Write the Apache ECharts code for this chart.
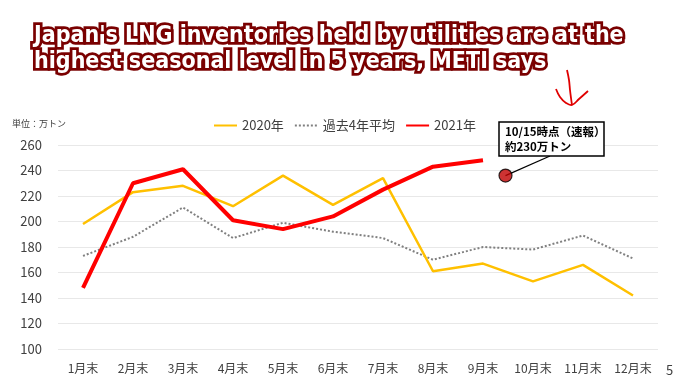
<!DOCTYPE html>
<html><head><meta charset="utf-8">
<script src="https://cdn.jsdelivr.net/npm/echarts@6/dist/echarts.min.js"></script>
<style>html,body{margin:0;padding:0;background:#fff}#c{width:679px;height:382px}</style>
</head><body><div id="c"></div>
<script>
const months = ['1月末','2月末','3月末','4月末','5月末','6月末','7月末','8月末','9月末','10月末','11月末','12月末'];
const y2020 = [198,223,228,212,236,213,234,161,167,153,166,142];
const avg4 = [173,188,211,187,199,192,187,170,180,178,189,171];
const y2021 = [148,230,241,201,194,204,225,243,248];
const flashPoint = [8.45, 236]; // 10/15 preliminary (position between Sep & Oct end)
const yTicks = {min:100, max:260, interval:20};
const titleLines = "Japan's LNG inventories held by utilities are at the\nhighest seasonal level in 5 years, METI says";
const noteLines = "10/15時点（速報）\n約230万トン";

const FONT = '"Noto Sans CJK JP", "Noto Sans", sans-serif';
const chart = echarts.init(document.getElementById('c'), null, {renderer:'canvas'});
const option = {
  animation:false,
  backgroundColor:'#fff',
  title:{
    text: titleLines, left: 29, top: 18,
    textStyle:{fontFamily:'"DejaVu Sans Condensed", "DejaVu Sans"', fontWeight:'bold', fontSize:23, lineHeight:26,
      color:'#fff', textBorderColor:'#7a0000', textBorderWidth:5.5}
  },
  legend:{
    left: 208, top: 114, itemWidth: 23, itemHeight: 10, itemGap: 10,
    itemStyle:{opacity:0},
    textStyle:{fontFamily:FONT, fontSize:13, color:'#404040'},
    data:['2020年','過去4年平均','2021年']
  },
  grid:{left:58, right:21, top:145, bottom:33},
  xAxis:[{
    type:'category', data: months, boundaryGap:true,
    axisLine:{show:false}, axisTick:{show:false},
    axisLabel:{fontFamily:FONT, fontSize:12, color:'#404040', margin:13}
  },{
    type:'value', min:-0.5, max:11.5, show:false
  }],
  yAxis:{
    type:'value', min:yTicks.min, max:yTicks.max, interval:yTicks.interval,
    axisLine:{show:false}, axisTick:{show:false},
    axisLabel:{fontFamily:FONT, fontSize:13, color:'#404040', margin:16},
    splitLine:{lineStyle:{color:'#e8e8e8', width:1}}
  },
  series:[
    {name:'2020年', type:'line', data:y2020, symbol:'none', lineStyle:{color:'#FFC000', width:2.5}, itemStyle:{color:'#FFC000'}, z:2},
    {name:'過去4年平均', type:'line', data:avg4, symbol:'none', lineStyle:{color:'#808080', width:2, type:[2,2]}, itemStyle:{color:'#808080'}, z:1},
    {name:'2021年', type:'line', data:y2021, symbol:'none', lineStyle:{color:'#FF0000', width:4}, itemStyle:{color:'#FF0000'}, z:3},
    {name:'flash', type:'scatter', xAxisIndex:1, data:[flashPoint], symbolSize:13,
      itemStyle:{color:'#C00000', borderColor:'#000', borderWidth:1.2}, z:5}
  ]
};
chart.setOption(option);
// annotation box and leader line to the flash point
const p = chart.convertToPixel({xAxisIndex:1, yAxisIndex:0}, flashPoint);
chart.setOption({graphic:[
  {id:'unit', type:'text', left:12, top:119, style:{text:'単位：万トン', font:'normal 9px '+FONT, fill:'#404040'}},
  {id:'page', type:'text', left:666, top:364, style:{text:'5', font:'normal 13px '+FONT, fill:'#404040'}},
  {id:'arrow1', type:'polyline', shape:{points:[[567,70],[569,80],[570,90],[571,98],[572,105]], smooth:0.4}, style:{stroke:'#e00000', lineWidth:1.8, fill:null}},
  {id:'arrow2', type:'polyline', shape:{points:[[556,89],[560,97],[566,103],[572,105],[579,99],[588,91]], smooth:0.4}, style:{stroke:'#e00000', lineWidth:1.8, fill:null}},
  {id:'lead', type:'line', z:4, shape:{x1:p[0], y1:p[1], x2:550, y2:156}, style:{stroke:'#000', lineWidth:1.2}},
  {id:'box', type:'rect', z:6, shape:{x:499, y:122, width:105, height:34}, style:{fill:'#fff', stroke:'#000', lineWidth:1.5}},
  {id:'note', type:'text', z:7, left:505, top:124, style:{text:noteLines, font:'bold 11.5px '+FONT, fill:'#000', lineHeight:15}}
]});
</script></body></html>
